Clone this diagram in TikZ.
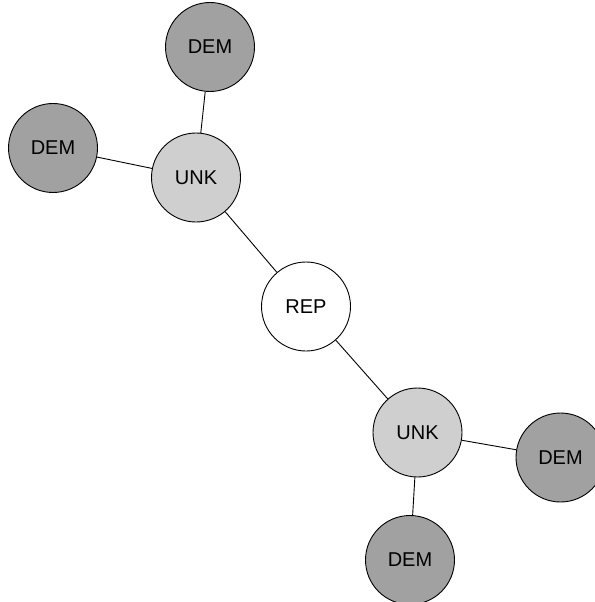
\documentclass[tikz,border=0pt]{standalone}
\usepackage{fontspec}
\setmainfont{Liberation Sans}
\usepackage{tikz}
\newcommand{\nodeSize}[0]{89bp}

\begin{document}
\begin{tikzpicture}[x=1bp, y=-1bp]
  \tikzset{every node/.style={circle,draw,line width=0.9bp,minimum size=\nodeSize,inner sep=0pt,font=\fontsize{20bp}{24bp}\selectfont},
    dem/.style={fill=black!37},
    unk/.style={fill=black!19},
    rep/.style={fill=white}}
  \useasboundingbox (0,0) rectangle (595,602);
  \begin{scope}
  \clip (0,0) rectangle (595,602);
  \node[dem] (demtop) at (210,47) {DEM};
  \node[dem] (demleft) at (53,148) {DEM};
  \node[unk] (unkup) at (196,177.5) {UNK};
  \node[rep] (rep) at (306,306.5) {REP};
  \node[unk] (unklow) at (417.5,432.5) {UNK};
  \node[dem] (demright) at (560.5,457.5) {DEM};
  \node[dem] (dembot) at (410,560) {DEM};
  \draw[line width=0.9bp] (demtop) -- (unkup);
  \draw[line width=0.9bp] (demleft) -- (unkup);
  \draw[line width=0.9bp] (unkup) -- (rep);
  \draw[line width=0.9bp] (rep) -- (unklow);
  \draw[line width=0.9bp] (unklow) -- (demright);
  \draw[line width=0.9bp] (unklow) -- (dembot);
  \end{scope}
\end{tikzpicture}
\end{document}
